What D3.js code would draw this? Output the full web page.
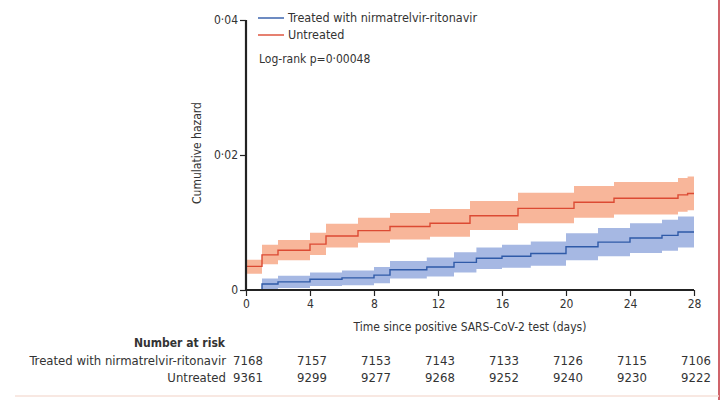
<!DOCTYPE html>
<html>
<head>
<meta charset="utf-8">
<script src="https://cdn.jsdelivr.net/npm/d3@7"></script>
<style>
  body { margin: 0; background: #fff; }
  svg text { font-family: "DejaVu Sans Condensed", "Liberation Sans Narrow", sans-serif; fill: #333; }
</style>
</head>
<body>
<svg id="chart" width="721" height="400"></svg>
<script>
// step times (days) and cumulative hazard estimates
const untreatedTime  = [0, 1, 2, 4, 5, 7, 9, 11.5, 14, 17, 20.5, 23, 27, 27.6, 28];
const untreatedHaz   = [0.0035, 0.0052, 0.0059, 0.0068, 0.0080, 0.0088, 0.0094, 0.0099, 0.0110, 0.0121, 0.0130, 0.0136, 0.0141, 0.0143, 0.0143];
const untreatedLow   = [0.0024, 0.0038, 0.0044, 0.0052, 0.0063, 0.0070, 0.0075, 0.0079, 0.0089, 0.0099, 0.0107, 0.0112, 0.0116, 0.0118, 0.0118];
const untreatedHigh  = [0.0045, 0.0067, 0.0074, 0.0085, 0.0098, 0.0107, 0.0114, 0.0120, 0.0132, 0.0144, 0.0154, 0.0160, 0.0166, 0.0168, 0.0168];

const treatedTime = [0, 1, 2, 4, 6, 8, 9, 11.3, 13, 14.4, 16, 17.8, 20, 22, 24, 26, 27, 28];
const treatedHaz  = [0, 0.0009, 0.0012, 0.0016, 0.0018, 0.0022, 0.0030, 0.0034, 0.0041, 0.0047, 0.0050, 0.0054, 0.0064, 0.0071, 0.0077, 0.0081, 0.0086, 0.0086];
const treatedLow  = [0, 0.0001, 0.0003, 0.0006, 0.0007, 0.0010, 0.0017, 0.0020, 0.0026, 0.0031, 0.0033, 0.0036, 0.0044, 0.0050, 0.0055, 0.0058, 0.0063, 0.0063];
const treatedHigh = [0, 0.0017, 0.0021, 0.0026, 0.0029, 0.0034, 0.0043, 0.0048, 0.0056, 0.0063, 0.0067, 0.0072, 0.0084, 0.0092, 0.0099, 0.0104, 0.0109, 0.0109];

const xTicks = [0, 4, 8, 12, 16, 20, 24, 28];
const yTicks = [0, 0.02, 0.04];
const riskLabels = ["Treated with nirmatrelvir-ritonavir", "Untreated"];
const riskTreated = [7168, 7157, 7153, 7143, 7133, 7126, 7115, 7106];
const riskUntreated = [9361, 9299, 9277, 9268, 9252, 9240, 9230, 9222];

const svg = d3.select("#chart");
const x = d3.scaleLinear().domain([0, 28]).range([246, 694]);
const y = d3.scaleLinear().domain([0, 0.04]).range([290, 20]);
const fmt = (d) => d === 0 ? "0" : d3.format(".2f")(d).replace(".", "·");
const FS = 12;

const series = [
  { time: treatedTime, haz: treatedHaz, lo: treatedLow, hi: treatedHigh, line: "#2f5aa8", band: "#9cb0e0" },
  { time: untreatedTime, haz: untreatedHaz, lo: untreatedLow, hi: untreatedHigh, line: "#dc4a33", band: "#f7ae8f" }
];

const area = d3.area().curve(d3.curveStepAfter)
  .x((d) => x(d.t)).y0((d) => y(d.lo)).y1((d) => y(d.hi));
const line = d3.line().curve(d3.curveStepAfter)
  .x((d) => x(d.t)).y((d) => y(d.v));

series.forEach((s) => {
  const rows = s.time.map((t, i) => ({ t, v: s.haz[i], lo: s.lo[i], hi: s.hi[i] }));
  svg.append("path").attr("d", area(rows)).attr("fill", s.band).attr("opacity", 0.9);
  s.rows = rows;
});
series.forEach((s) => {
  svg.append("path").attr("d", line([{ t: 0, v: 0 }].concat(s.rows)))
    .attr("fill", "none").attr("stroke", s.line).attr("stroke-width", 1.4);
});

// axes
const xAxis = svg.append("g").attr("transform", "translate(0,290)")
  .call(d3.axisBottom(x).tickValues(xTicks).tickSize(6).tickPadding(3));
const yAxis = svg.append("g").attr("transform", "translate(246,0)")
  .call(d3.axisLeft(y).tickValues(yTicks).tickFormat(fmt).tickSize(6).tickPadding(2));
[xAxis, yAxis].forEach((g) => {
  g.select(".domain").attr("stroke", "#222").attr("stroke-width", 2.2);
  g.selectAll(".tick line").attr("stroke", "#222").attr("stroke-width", 1.2);
  g.selectAll("text").attr("font-size", FS).attr("fill", "#333")
    .style("font-family", "'DejaVu Sans Condensed', sans-serif");
});
xAxis.select(".domain").attr("d", "M246,0H694");
yAxis.select(".domain").attr("d", "M0,20V290");

svg.append("text").attr("x", 470).attr("y", 331).attr("text-anchor", "middle")
  .attr("font-size", FS).text("Time since positive SARS-CoV-2 test (days)");
svg.append("text").attr("transform", "translate(201,153) rotate(-90)").attr("text-anchor", "middle")
  .attr("font-size", FS).text("Cumulative hazard");

// legend
series.forEach((s, i) => {
  const ly = 18 + i * 17;
  svg.append("line").attr("x1", 258).attr("x2", 284).attr("y1", ly).attr("y2", ly)
    .attr("stroke", s.line).attr("stroke-width", 1.4);
  svg.append("text").attr("x", 288).attr("y", ly + 4).attr("font-size", 12.5).text(riskLabels[i]);
});
svg.append("text").attr("x", 259).attr("y", 63).attr("font-size", FS).text("Log-rank p=0·00048");

// number at risk
svg.append("text").attr("x", 225).attr("y", 347).attr("text-anchor", "end")
  .attr("font-size", FS).attr("font-weight", "bold").text("Number at risk");
[riskTreated, riskUntreated].forEach((vals, i) => {
  const ry = 365 + i * 17;
  svg.append("text").attr("x", 226).attr("y", ry).attr("text-anchor", "end")
    .attr("font-size", 13).text(riskLabels[i]);
  svg.selectAll(null).data(vals).join("text")
    .attr("x", (d, j) => x(xTicks[j]) + 2).attr("y", ry).attr("text-anchor", "middle")
    .attr("font-size", 13).text((d) => d);
});

// frame edges seen in the figure
svg.append("line").attr("x1", 719).attr("x2", 719).attr("y1", 0).attr("y2", 400)
  .attr("stroke", "#c0303a").attr("stroke-width", 1.5);
svg.append("line").attr("x1", 15).attr("x2", 719).attr("y1", 396).attr("y2", 396)
  .attr("stroke", "#f6e0d8").attr("stroke-width", 1.5);
</script>
</body>
</html>
